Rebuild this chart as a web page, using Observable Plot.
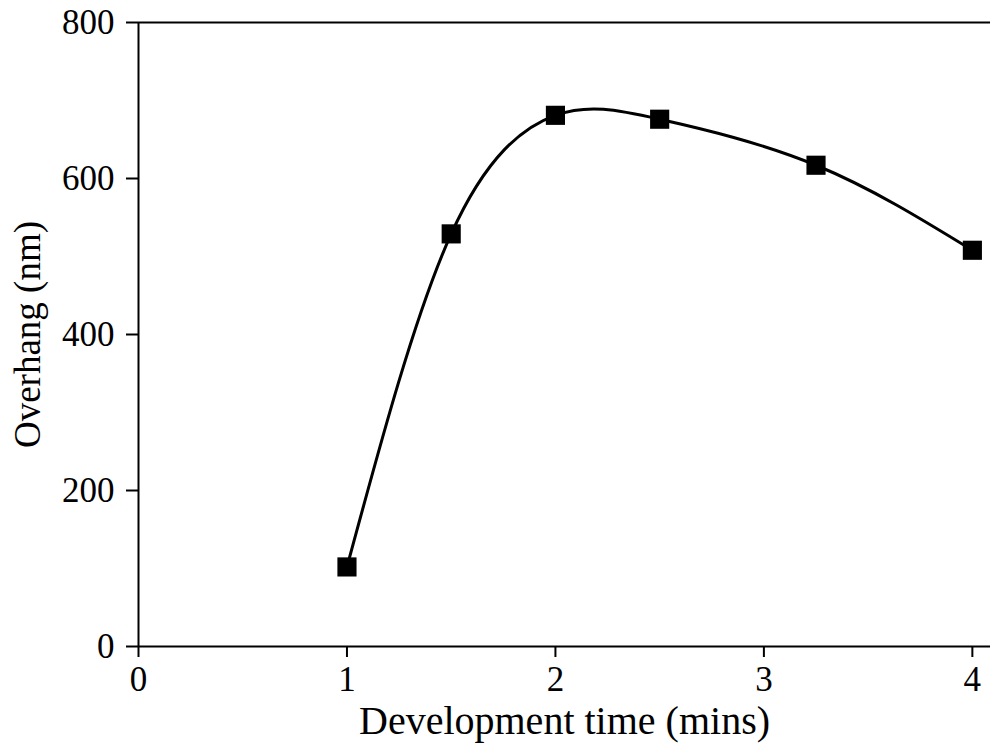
<!DOCTYPE html>
<html>
<head>
<meta charset="utf-8">
<script src="https://cdn.jsdelivr.net/npm/d3@7"></script>
<script src="https://cdn.jsdelivr.net/npm/@observablehq/plot@0.6"></script>
<style>
  html, body { margin: 0; padding: 0; background: #fff; }
  #chart svg { display: block; }
</style>
</head>
<body>
<div id="chart"></div>
<script>
const times = [1, 1.5, 2, 2.5, 3.25, 4];
const overhang = [102, 529, 681, 676, 617, 508];
const xTicks = [0, 1, 2, 3, 4];
const yTicks = [0, 200, 400, 600, 800];
const xLabel = "Development time (mins)";
const yLabel = "Overhang (nm)";

const data = times.map((t, i) => ({t, v: overhang[i]}));
const font = "'Liberation Serif', 'Times New Roman', serif";

const chart = Plot.plot({
  width: 990,
  height: 751,
  marginLeft: 138,
  marginTop: 22,
  marginRight: 0,
  marginBottom: 105,
  style: {fontFamily: font, fontSize: "34px", color: "#000", background: "#fff"},
  x: {domain: [0, 4.087]},
  y: {domain: [0, 800]},
  marks: [
    Plot.ruleY([0], {stroke: "#000", strokeWidth: 2}),
    Plot.ruleY([800], {stroke: "#000", strokeWidth: 2}),
    Plot.ruleX([0], {stroke: "#000", strokeWidth: 2}),
    Plot.axisX({ticks: xTicks, tickSize: 11, tickPadding: 9, tickFormat: d => String(d), label: null, strokeWidth: 2, fontSize: 35}),
    Plot.axisY({ticks: yTicks, tickSize: 12, tickPadding: 12, tickFormat: d => String(d), label: null, strokeWidth: 2, fontSize: 35}),
    Plot.line(data, {x: "t", y: "v", curve: "natural", stroke: "#000", strokeWidth: 3}),
    Plot.dot(data, {x: "t", y: "v", symbol: "square", r: 10.8, fill: "#000", stroke: "none"}),
    Plot.text([xLabel], {frameAnchor: "bottom", dy: 75, text: d => d, fontSize: 40, textAnchor: "middle", lineAnchor: "middle"}),
    Plot.text([yLabel], {frameAnchor: "left", dx: -110, rotate: -90, text: d => d, fontSize: 37, textAnchor: "middle", lineAnchor: "middle"})
  ]
});
document.getElementById("chart").appendChild(chart);
</script>
</body>
</html>
